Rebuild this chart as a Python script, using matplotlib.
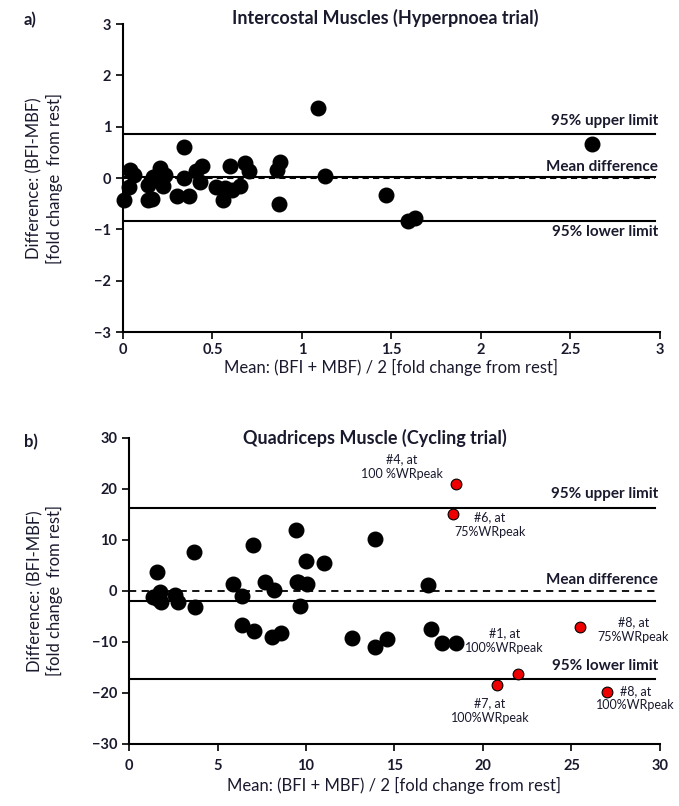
import matplotlib
matplotlib.use("Agg")
import matplotlib.pyplot as plt

plt.rcParams['font.family'] = ['Lato', 'DejaVu Sans']

# Panel a data (Intercostal)
a_mean = [0.007, 0.035, 0.04, 0.06, 0.14, 0.165, 0.14, 0.17, 0.21, 0.225, 0.235,
          0.30, 0.34, 0.34, 0.37, 0.41, 0.44, 0.43, 0.52, 0.56, 0.57, 0.60, 0.61,
          0.655, 0.68, 0.705, 0.86, 0.88, 0.87, 1.09, 1.13, 1.47, 1.59, 1.63, 2.62]
a_diff = [-0.43, -0.18, 0.16, 0.07, -0.43, -0.40, -0.13, 0.03, 0.19, -0.16, 0.07,
          -0.35, 0.60, 0.0, -0.35, 0.13, 0.23, -0.07, -0.18, -0.42, -0.20, 0.24, -0.23,
          -0.16, 0.29, 0.13, 0.16, 0.31, -0.51, 1.37, 0.05, -0.33, -0.84, -0.78, 0.67]
a_upper, a_bias, a_lower = 0.86, 0.02, -0.84

# Panel b data (Quadriceps)
b_mean = [1.58, 1.36, 1.77, 1.83, 1.64, 2.58, 2.77, 3.67, 3.75, 5.88, 6.38, 6.37,
          7.06, 7.0, 7.7, 8.18, 8.1, 8.6, 9.46, 9.5, 9.98, 11.0, 9.55, 10.06, 9.68,
          13.9, 16.9, 12.6, 14.6, 13.9, 17.05, 17.7, 18.5]
b_diff = [3.7, -1.1, -0.3, -2.2, -1.5, -0.8, -2.2, 7.7, -3.2, 1.3, -0.9, -6.7,
          -7.8, 9.0, 1.7, 0.1, -9.0, -8.3, 12.0, 1.7, 5.9, 5.5, 1.7, 1.3, -2.9,
          10.2, 1.1, -9.2, -9.5, -11.0, -7.5, -10.2, -10.2]
red_mean = [18.5, 18.3, 25.5, 22.0, 20.8, 27.0]
red_diff = [20.9, 15.0, -7.1, -16.2, -18.5, -19.9]
red_labels = ["#4, at\n100 %WRpeak", "#6, at\n75%WRpeak", "#8, at\n75%WRpeak",
              "#1, at\n100%WRpeak", "#7, at\n100%WRpeak", "#8, at\n100%WRpeak"]
b_upper, b_bias, b_lower = 16.3, -2.0, -17.3

TXT = '#1a1a2e'
fig = plt.figure(figsize=(6.79, 8.06), dpi=100)
ax1 = fig.add_axes([0.181, 0.588, 0.791, 0.382])
ax2 = fig.add_axes([0.19, 0.077, 0.782, 0.3796])

def style(ax, tpad, lpad, ycoord):
    for s in ['top', 'right']:
        ax.spines[s].set_visible(False)
    for s in ['left', 'bottom']:
        ax.spines[s].set_linewidth(1.5)
    ax.tick_params(direction='out', length=5, width=1.2, labelsize=10.5,
                   colors='black', labelcolor=TXT)
    ax.tick_params(axis='x', pad=tpad)
    for lab in ax.get_xticklabels() + ax.get_yticklabels():
        lab.set_fontweight('bold')
    ax.set_ylabel("Difference: (BFI-MBF)\n[fold change  from rest]", fontsize=12,
                  color=TXT)
    ax.yaxis.set_label_coords(ycoord, 0.5)
    ax.set_xlabel("Mean: (BFI + MBF) / 2 [fold change from rest]", fontsize=12,
                  color=TXT, labelpad=lpad)

# Panel a
ax1.set_xlim(0, 3)
ax1.set_ylim(-3, 3)
ax1.set_xticks([0, 0.5, 1, 1.5, 2, 2.5, 3])
ax1.set_xticklabels(['0', '0.5', '1', '1.5', '2', '2.5', '3'])
ax1.set_yticks([-3, -2, -1, 0, 1, 2, 3])
ax1.axhline(a_upper, color='black', lw=1.5, xmax=0.99)
ax1.axhline(a_lower, color='black', lw=1.5, xmax=0.99)
ax1.axhline(a_bias, color='black', lw=1.5, xmax=0.99)
ax1.axhline(0, color='black', lw=1.5, ls=(0, (3, 2)), xmax=0.99)
ax1.scatter(a_mean, a_diff, s=110, color='black', zorder=3, clip_on=False)
ax1.text(2.99, a_upper + 0.12, "95% upper limit", ha='right', va='bottom',
         fontsize=11, fontweight='bold', color=TXT)
ax1.text(2.99, a_bias + 0.06, "Mean difference", ha='right', va='bottom',
         fontsize=11, fontweight='bold', color=TXT)
ax1.text(2.99, a_lower - 0.08, "95% lower limit", ha='right', va='top',
         fontsize=11, fontweight='bold', color=TXT)
style(ax1, 3, 1, -0.112)
ax1.text(0.488, 1.02, "Intercostal Muscles (Hyperpnoea trial)", fontsize=13,
         fontweight='bold', color=TXT, ha='center', va='center',
         transform=ax1.transAxes)

# Panel b
ax2.set_xlim(0, 30)
ax2.set_ylim(-30, 30)
ax2.set_xticks([0, 5, 10, 15, 20, 25, 30])
ax2.set_yticks([-30, -20, -10, 0, 10, 20, 30])
ax2.axhline(b_upper, color='black', lw=1.5, xmax=0.99)
ax2.axhline(b_lower, color='black', lw=1.5, xmax=0.99)
ax2.axhline(b_bias, color='black', lw=1.5, xmax=0.99)
ax2.axhline(0, color='black', lw=1.3, ls=(0, (4, 3)), xmax=0.99)
ax2.scatter(b_mean, b_diff, s=110, color='black', zorder=3)
ax2.scatter(red_mean, red_diff, s=60, color='#ee0000', edgecolor='black',
            linewidth=0.8, zorder=4)
label_pos = [(15.4, 24.4, 'center'), (20.4, 13.0, 'center'), (28.5, -7.6, 'center'),
             (21.2, -9.7, 'center'), (20.4, -23.4, 'center'), (30.85, -21.0, 'right')]
for lab, (lx, ly, ha) in zip(red_labels, label_pos):
    ax2.text(lx, ly, lab, ha=ha, va='center', fontsize=9, color=TXT,
             multialignment='center', linespacing=1.25, clip_on=False)
ax2.text(29.9, b_upper + 1.3, "95% upper limit", ha='right', va='bottom',
         fontsize=11, fontweight='bold', color=TXT)
ax2.text(29.9, 0.8, "Mean difference", ha='right', va='bottom',
         fontsize=11, fontweight='bold', color=TXT)
ax2.text(29.9, b_lower + 1.3, "95% lower limit", ha='right', va='bottom',
         fontsize=11, fontweight='bold', color=TXT)
style(ax2, 6, 3, -0.124)
ax2.text(0.463, 1.0, "Quadriceps Muscle (Cycling trial)", fontsize=13,
         fontweight='bold', color=TXT, ha='center', va='center',
         transform=ax2.transAxes)

fig.text(0.035, 0.975, "a)", fontsize=12, fontweight='bold', color=TXT, va='center')
fig.text(0.035, 0.452, "b)", fontsize=12, fontweight='bold', color=TXT, va='center')

fig.savefig("out.png", dpi=100)
